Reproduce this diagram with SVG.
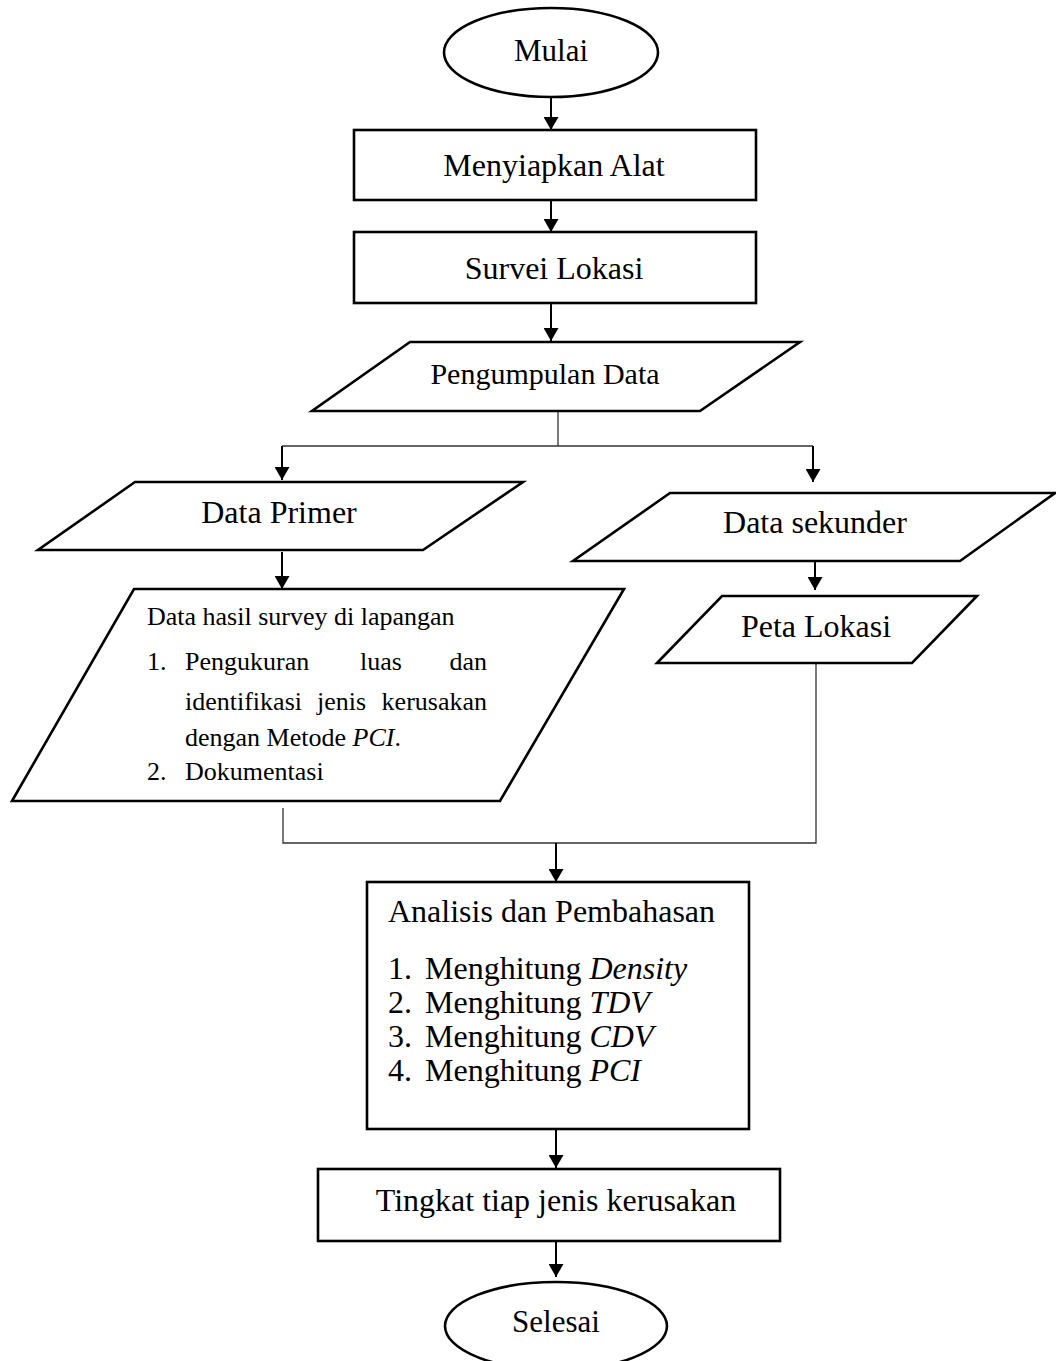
<svg xmlns="http://www.w3.org/2000/svg" width="1056" height="1361" viewBox="0 0 1056 1361">
<style>
.shape{fill:#fff;stroke:#000;stroke-width:2.6}
.t{font-family:"Liberation Serif","Times New Roman",serif;font-size:32px;fill:#000}
.c{text-anchor:middle}
.s{font-size:26px}
.it{font-style:italic}
.arrow{fill:none;stroke:#000;stroke-width:2}
.thin{fill:none;stroke:#333;stroke-width:1.3}
</style>
<defs>
<marker id="ah" viewBox="0 0 13 15" refX="13" refY="7.5" markerWidth="13" markerHeight="15" markerUnits="userSpaceOnUse" orient="auto">
<path d="M0,0 L13,7.5 L0,15 Z" fill="#000"/>
</marker>
</defs>
<rect width="1056" height="1361" fill="#fff"/>

<g id="connectors">
<line class="arrow" x1="551" y1="97" x2="551" y2="130" marker-end="url(#ah)"/>
<line class="arrow" x1="551" y1="200" x2="551" y2="232" marker-end="url(#ah)"/>
<line class="arrow" x1="551" y1="303" x2="551" y2="341" marker-end="url(#ah)"/>
<polyline class="thin" points="558,411 558,446"/>
<polyline class="thin" points="282,446 813,446"/>
<line class="arrow" x1="282" y1="446" x2="282" y2="480" marker-end="url(#ah)"/>
<line class="arrow" x1="813" y1="446" x2="813" y2="482" marker-end="url(#ah)"/>
<line class="arrow" x1="282" y1="552" x2="282" y2="589" marker-end="url(#ah)"/>
<line class="arrow" x1="815" y1="555" x2="815" y2="590" marker-end="url(#ah)"/>
<polyline class="thin" points="283,808 283,843 816,843 816,663"/>
<line class="arrow" x1="556" y1="843" x2="556" y2="882" marker-end="url(#ah)"/>
<line class="arrow" x1="556" y1="1129" x2="556" y2="1168" marker-end="url(#ah)"/>
<line class="arrow" x1="556" y1="1241" x2="556" y2="1277" marker-end="url(#ah)"/>
</g>

<g id="mulai">
<ellipse class="shape" cx="551" cy="52.5" rx="107" ry="44.5"/>
<text class="t c" x="551" y="61" style="font-size:31px">Mulai</text>
</g>

<g id="menyiapkan-alat">
<rect class="shape" x="354" y="130" width="402" height="70"/>
<text class="t c" x="554" y="176">Menyiapkan Alat</text>
</g>

<g id="survei-lokasi">
<rect class="shape" x="354" y="232" width="402" height="71"/>
<text class="t c" x="554" y="279">Survei Lokasi</text>
</g>

<g id="pengumpulan-data">
<polygon class="shape" points="410,342 800,342 700,411 312,411"/>
<text class="t c" x="545" y="384" style="font-size:30px">Pengumpulan Data</text>
</g>

<g id="data-primer">
<polygon class="shape" points="135,482 523,482 423,550 38,550"/>
<text class="t c" x="279" y="523">Data Primer</text>
</g>

<g id="data-sekunder">
<polygon class="shape" points="670,493 1055,493 960,561 573,561"/>
<text class="t c" x="815" y="533">Data sekunder</text>
</g>

<g id="data-hasil-survey">
<polygon class="shape" points="134,589 624,589 500,801 12,801"/>
<text class="t s" x="147" y="625">Data hasil survey di lapangan</text>
<text class="t s" x="147" y="670">1.</text>
<text class="t s" x="185" y="670">Pengukuran</text>
<text class="t s" x="360" y="670">luas</text>
<text class="t s" x="487" y="670" text-anchor="end">dan</text>
<text class="t s" x="185" y="710">identifikasi</text>
<text class="t s" x="317" y="710">jenis</text>
<text class="t s" x="487" y="710" text-anchor="end">kerusakan</text>
<text class="t s" x="185" y="746">dengan Metode <tspan class="it">PCI</tspan>.</text>
<text class="t s" x="147" y="780">2.</text>
<text class="t s" x="185" y="780">Dokumentasi</text>
</g>

<g id="peta-lokasi">
<polygon class="shape" points="722,596 977,596 912,663 657,663"/>
<text class="t c" x="816" y="637">Peta Lokasi</text>
</g>

<g id="analisis-pembahasan">
<rect class="shape" x="367" y="882" width="382" height="247"/>
<text class="t" x="388" y="922">Analisis dan Pembahasan</text>
<text class="t" x="388" y="979">1.</text>
<text class="t" x="425" y="979">Menghitung <tspan class="it">Density</tspan></text>
<text class="t" x="388" y="1013">2.</text>
<text class="t" x="425" y="1013">Menghitung <tspan class="it">TDV</tspan></text>
<text class="t" x="388" y="1047">3.</text>
<text class="t" x="425" y="1047">Menghitung <tspan class="it">CDV</tspan></text>
<text class="t" x="388" y="1081">4.</text>
<text class="t" x="425" y="1081">Menghitung <tspan class="it">PCI</tspan></text>
</g>

<g id="tingkat-kerusakan">
<rect class="shape" x="318" y="1169" width="462" height="72"/>
<text class="t c" x="556" y="1211">Tingkat tiap jenis kerusakan</text>
</g>

<g id="selesai">
<ellipse class="shape" cx="556" cy="1326" rx="111" ry="44"/>
<text class="t c" x="556" y="1332" style="font-size:31px">Selesai</text>
</g>
</svg>
